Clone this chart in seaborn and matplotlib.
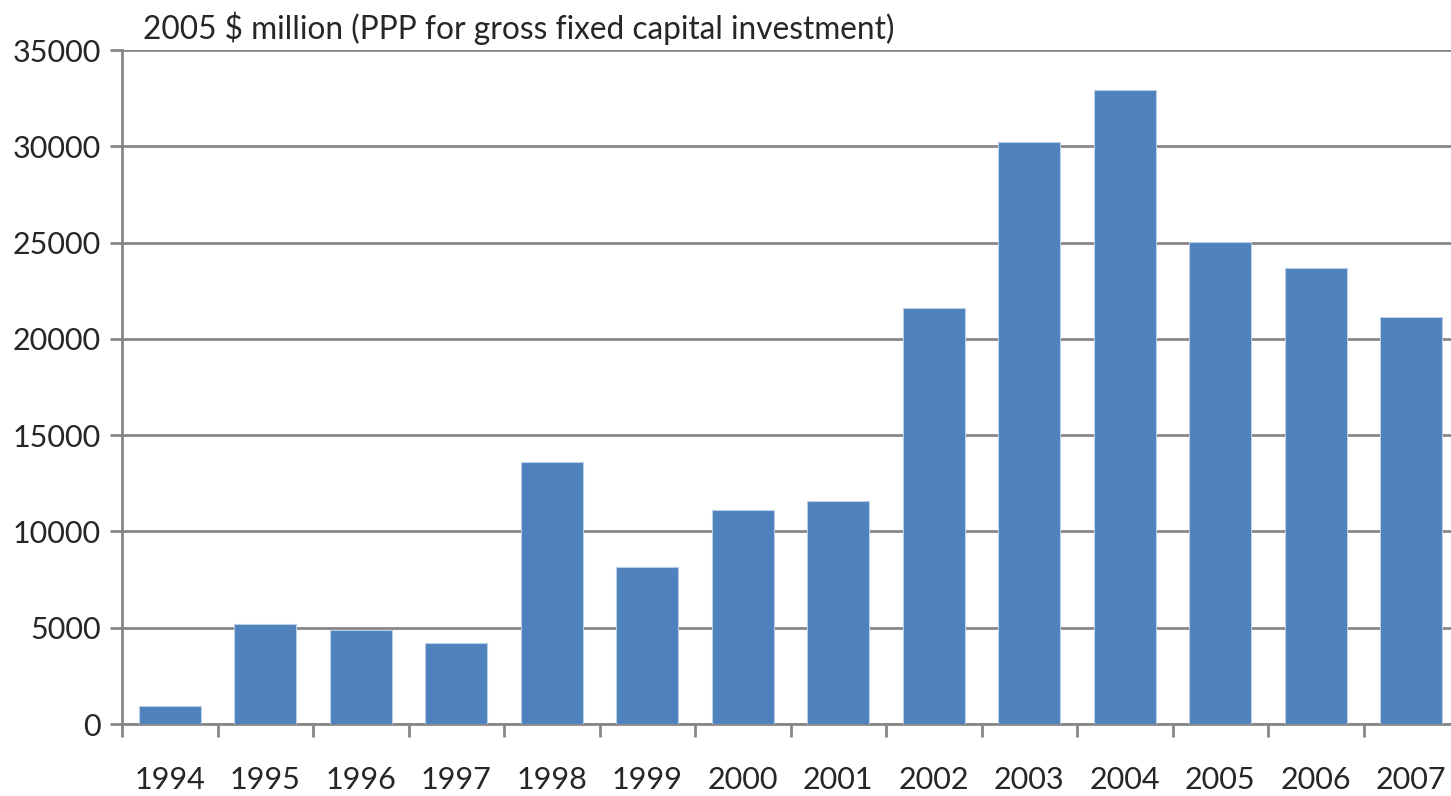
import numpy as np
import pandas as pd
import seaborn as sns
import matplotlib
matplotlib.use('Agg')
import matplotlib.pyplot as plt

years = ['1994', '1995', '1996', '1997', '1998', '1999', '2000',
         '2001', '2002', '2003', '2004', '2005', '2006', '2007']
investment = [950, 5200, 4900, 4200, 13600, 8150, 11100,
              11600, 21600, 30200, 32900, 25050, 23700, 21150]
y_ticks = [0, 5000, 10000, 15000, 20000, 25000, 30000, 35000]
unit_label = '2005 $ million (PPP for gross fixed capital investment)'

df = pd.DataFrame({'year': years, 'value': investment})

sns.set_style('white')
plt.rcParams['font.family'] = ['Lato', 'DejaVu Sans']

grey = '#878787'
fig = plt.figure(figsize=(14.51, 7.96), dpi=100)
# plot area runs slightly past the right edge, as in the original
ax = fig.add_axes([122 / 1451, 1 - 724 / 796, 1337 / 1451, (724 - 50) / 796])

sns.barplot(data=df, x='year', y='value', color='#4F81BD', saturation=1,
            width=0.65, edgecolor='#B9CDE5', linewidth=0.8, ax=ax, zorder=3)

ax.set_ylim(0, 35000)
ax.set_xlim(-0.5, len(years) - 0.5)
ax.set_yticks(y_ticks)
ax.set_yticklabels([str(v) for v in y_ticks])
ax.yaxis.grid(True, color=grey, linewidth=2.0, zorder=0)
ax.set_axisbelow(True)

# category-boundary ticks like the original
ax.set_xticks(np.arange(-0.5, len(years) + 0.5, 1), minor=True)
ax.tick_params(axis='x', which='both', bottom=True)
ax.tick_params(axis='x', which='major', length=0, pad=30, labelsize=22)
ax.tick_params(axis='x', which='minor', length=9, width=2, color=grey, direction='out')
ax.tick_params(axis='y', left=True, length=9, width=2, color=grey, direction='out',
               pad=6, labelsize=22)

for side in ['top', 'right']:
    ax.spines[side].set_visible(False)
for side in ['left', 'bottom']:
    ax.spines[side].set_color(grey)
    ax.spines[side].set_linewidth(2.0)

ax.set_xlabel('')
ax.set_ylabel('')

fig.text(143 / 1451, 1 - 28 / 796, unit_label, fontsize=22.8, va='center', ha='left')

fig.savefig('out.png', dpi=100)
